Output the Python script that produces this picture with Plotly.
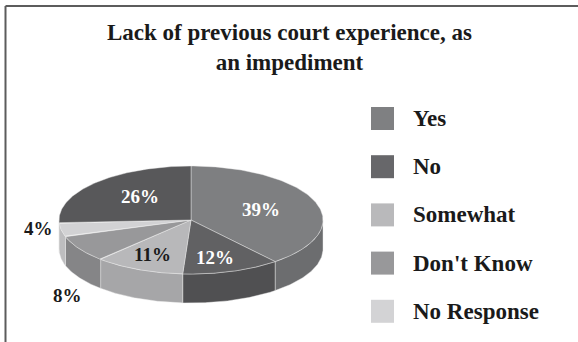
import numpy as np
import plotly.graph_objects as go

# Survey responses (percent), in clockwise order starting at 12 o'clock
categories = ["Yes", "No", "Somewhat", "Don't Know", "No Response", "Other"]
shares = [39, 12, 11, 8, 4, 26]

# Legend entries
legend_labels = ["Yes", "No", "Somewhat", "Don't Know", "No Response"]

# Colours
top_colors = ["#7e7f81", "#616163", "#b8b8ba", "#98989a", "#d2d2d4", "#58585a"]
side_colors = ["#6c6d6f", "#505052", "#a6a6a8", "#858587", "#bdbdbf", "#4a4a4c"]
legend_colors = ["#7f8082", "#67676a", "#b9b9bb", "#98989a", "#d3d3d5"]
label_colors = ["white", "white", "#1a1a1a", "#1a1a1a", "#1a1a1a", "white"]

# Label placement: fraction of radius along the mid-angle, and extra drop (px)
label_radius = [0.56, 0.58, 0.74, 1.11, 1.18, 0.53]
label_drop = [0, 8, -2, 43, -3, -4]

W, H = 578, 342
FONT = "Liberation Serif"

# Pie geometry (pixel units; y grows downwards)
cx, cy = 191, 220
rx, ry = 132, 54
depth = 29


def pt(theta_deg, dy=0.0, scale=1.0):
    t = np.radians(theta_deg)
    return cx + rx * scale * np.sin(t), cy - ry * scale * np.cos(t) + dy


fig = go.Figure()

bounds = np.concatenate([[0], np.cumsum(shares)]) * 3.6

# Side walls (visible front half only: 90..270 degrees)
for i in range(len(shares)):
    a, b = max(bounds[i], 90), min(bounds[i + 1], 270)
    if b <= a:
        continue
    th = np.linspace(a, b, 80)
    xt, yt = pt(th)
    xb, yb = pt(th[::-1], dy=depth)
    xs = np.concatenate([xt, xb, [xt[0]]])
    ys = np.concatenate([yt, yb, [yt[0]]])
    fig.add_trace(go.Scatter(
        x=xs, y=ys, mode="lines", fill="toself",
        fillcolor=side_colors[i],
        line=dict(color="rgba(235,235,235,0.55)", width=0.8),
        hoverinfo="skip", showlegend=False))

# Top faces
for i in range(len(shares)):
    th = np.linspace(bounds[i], bounds[i + 1], 120)
    xt, yt = pt(th)
    xs = np.concatenate([[cx], xt, [cx]])
    ys = np.concatenate([[cy], yt, [cy]])
    fig.add_trace(go.Scatter(
        x=xs, y=ys, mode="lines", fill="toself",
        fillcolor=top_colors[i],
        line=dict(color="rgba(235,235,235,0.55)", width=0.8),
        hoverinfo="skip", showlegend=False))

# Percentage labels
for i, v in enumerate(shares):
    mid = (bounds[i] + bounds[i + 1]) / 2
    lx, ly = pt(mid, dy=label_drop[i], scale=label_radius[i])
    fig.add_annotation(
        x=lx, y=ly, text=f"<b>{v}%</b>", showarrow=False,
        xanchor="center", yanchor="middle",
        font=dict(family=FONT, size=19, color=label_colors[i]))

# Legend: swatches and labels
leg_x, leg_y0, leg_step = 382.5, 118.5, 48.2
for k, (lab, col) in enumerate(zip(legend_labels, legend_colors)):
    y = leg_y0 + k * leg_step
    fig.add_trace(go.Scatter(
        x=[leg_x], y=[y], mode="markers",
        marker=dict(symbol="square", size=23, color=col, line=dict(width=0)),
        hoverinfo="skip", showlegend=False))
    fig.add_annotation(
        x=411, y=y, text=f"<b>{lab}</b>", showarrow=False,
        xanchor="left", yanchor="middle",
        font=dict(family=FONT, size=23, color="#1a1a1a"))

# Title
fig.add_annotation(
    x=289, y=47, text="<b>Lack of previous court experience, as<br>an impediment</b>",
    showarrow=False, xanchor="center", yanchor="middle",
    font=dict(family=FONT, size=23, color="#1a1a1a"))

# Frame lines (top and left)
fig.add_shape(type="line", x0=5.5, y0=6, x1=W, y1=6,
              line=dict(color="#5c5c5c", width=2))
fig.add_shape(type="line", x0=5.5, y0=6, x1=5.5, y1=H,
              line=dict(color="#5c5c5c", width=2))

fig.update_xaxes(range=[0, W], visible=False, fixedrange=True)
fig.update_yaxes(range=[H, 0], visible=False, fixedrange=True)
fig.update_layout(
    width=W, height=H, autosize=False,
    margin=dict(l=0, r=0, t=0, b=0),
    paper_bgcolor="white", plot_bgcolor="white",
    showlegend=False,
)

fig.write_html("out.html")
